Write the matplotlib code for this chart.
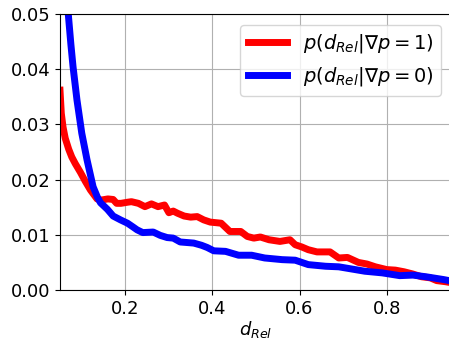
import matplotlib.pyplot as plt

# d_Rel positions and estimated densities
x_red = [0.05, 0.053, 0.057, 0.062, 0.07, 0.077, 0.085, 0.097, 0.108, 0.12, 0.135, 0.145, 0.16,
         0.172, 0.18, 0.19, 0.205, 0.214, 0.23, 0.245, 0.26, 0.275, 0.29, 0.3, 0.31,
         0.32, 0.335, 0.35, 0.365, 0.38, 0.395, 0.42, 0.44, 0.465, 0.48, 0.495, 0.51,
         0.53, 0.555, 0.578, 0.59, 0.605, 0.62, 0.64, 0.67, 0.69, 0.71, 0.735, 0.755,
         0.774, 0.8, 0.82, 0.84, 0.86, 0.88, 0.9, 0.915, 0.935, 0.95]
y_red = [0.0362, 0.032, 0.0295, 0.0275, 0.0255, 0.0241, 0.0229, 0.0213, 0.0197, 0.0181, 0.0165, 0.0163, 0.0165,
         0.0164, 0.0157, 0.0157, 0.0159, 0.016, 0.0157, 0.0151, 0.0156, 0.0151, 0.0154, 0.014, 0.0143,
         0.0139, 0.0134, 0.0132, 0.0133, 0.0127, 0.0123, 0.0121, 0.0106, 0.0106, 0.0097, 0.0094, 0.0096,
         0.0091, 0.0088, 0.0091, 0.0082, 0.0078, 0.0073, 0.0069, 0.0069, 0.0058, 0.0059, 0.0050, 0.0047,
         0.0042, 0.0037, 0.0036, 0.0033, 0.0029, 0.0024, 0.0022, 0.0017, 0.0015, 0.0013]

x_blue = [0.062, 0.069, 0.075, 0.08, 0.089, 0.1, 0.112, 0.126, 0.136, 0.143, 0.159, 0.172,
          0.189, 0.205, 0.218, 0.227, 0.24, 0.264, 0.28, 0.296, 0.31, 0.326, 0.357, 0.375,
          0.388, 0.403, 0.43, 0.46, 0.49, 0.52, 0.56, 0.59, 0.62, 0.66, 0.69, 0.72,
          0.75, 0.79, 0.83, 0.86, 0.89, 0.93, 0.95]
y_blue = [0.058, 0.050, 0.0445, 0.0404, 0.0344, 0.0284, 0.0236, 0.0187, 0.0168, 0.0158, 0.0146, 0.0134,
          0.0127, 0.0121, 0.0114, 0.0109, 0.0104, 0.0105, 0.0099, 0.0095, 0.0094, 0.0087, 0.0085, 0.0081,
          0.0077, 0.0071, 0.0070, 0.0063, 0.0063, 0.0058, 0.0055, 0.0054, 0.0046, 0.0043, 0.0042, 0.0038,
          0.0034, 0.0031, 0.0026, 0.0027, 0.0024, 0.0019, 0.0016]

plt.rcParams['font.size'] = 13

fig = plt.figure(figsize=(4.49, 3.41), dpi=100)
ax = fig.add_axes([60 / 449, 51 / 341, 392 / 449, 276 / 341])
ax.plot(x_red, y_red, color='red', lw=5, label=r'$p(d_{Rel}|\nabla p = 1)$')
ax.plot(x_blue, y_blue, color='blue', lw=5, label=r'$p(d_{Rel}|\nabla p = 0)$')
ax.set_xlim(0.05, 0.95)
ax.set_ylim(0, 0.05)
ax.set_xticks([0.2, 0.4, 0.6, 0.8])
ax.set_yticks([0.0, 0.01, 0.02, 0.03, 0.04, 0.05])
ax.set_xlabel(r'$d_{Rel}$', labelpad=1)
ax.grid(True)
ax.legend(loc='upper right', fontsize=14, borderaxespad=0.55)
fig.savefig('out.png', dpi=100)
